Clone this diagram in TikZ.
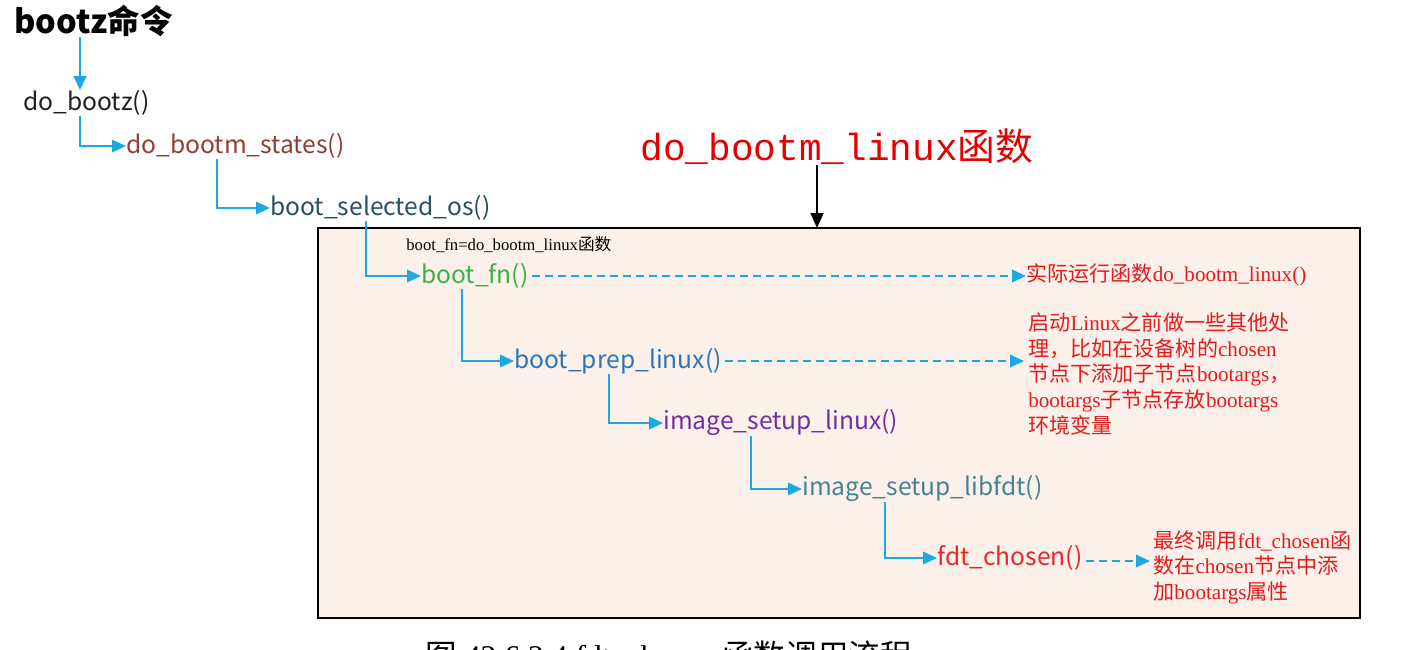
\documentclass[tikz,border=0pt]{standalone}
\usepackage{fontspec}
\setmainfont{Liberation Serif}
\newfontfamily\cjk{Noto Sans CJK SC}
\newfontfamily\monofam{Liberation Mono}
\usetikzlibrary{arrows.meta,positioning}
\definecolor{wire}{RGB}{29,169,222}
\definecolor{paper}{RGB}{252,241,234}
\definecolor{mark}{RGB}{226,28,28}
\definecolor{rust}{RGB}{148,60,52}
\definecolor{slate}{RGB}{38,80,100}
\definecolor{leaf}{RGB}{60,175,75}
\definecolor{steel}{RGB}{46,117,182}
\definecolor{plum}{RGB}{112,48,160}
\definecolor{sea}{RGB}{70,130,145}
\definecolor{scarlet}{RGB}{232,40,40}
\newcommand{\zh}[1]{{\cjk #1}}
\tikzset{
  >={Triangle[length=2.8mm,width=2.5mm]},
  fn/.style={anchor=west,inner sep=0pt,text=#1,font=\cjk\fontsize{14}{16}\selectfont},
  fn/.default=black,
  call/.style={->,line width=1.1pt,draw=wire},
  hint/.style={->,line width=1.1pt,draw=wire,dash pattern=on 1.6mm off 1mm},
  note/.style={anchor=north west,inner sep=0pt,text=mark,align=left,
    font=\fontsize{12}{14.7}\selectfont},
  frame/.style={draw=black,fill=paper,line width=1.3pt},
}

\begin{document}
\begin{tikzpicture}[x=0.02cm,y=-0.02cm]
    \useasboundingbox (0,0) rectangle (1408,649);
    \draw[frame] (318,228) rectangle (1360,618);
    \coordinate (boxtop) at (817,228);
    \node[anchor=west,inner sep=0pt,font=\cjk\bfseries\fontsize{18.5}{21}\selectfont] (top) at (14,21) {bootz命令};
    \foreach \n/\t/\c/\px/\py in {f0/do\_bootz()/black!88/23/103,f1/do\_bootm\_states()/rust/126/146,
      f2/boot\_selected\_os()/slate/270/208,f3/boot\_fn()/leaf/421/276,f4/boot\_prep\_linux()/steel/514/361,
      f5/image\_setup\_linux()/plum/663/423,f6/image\_setup\_libfdt()/sea/802/489,f7/fdt\_chosen()/scarlet/937/558}
      \node[fn=\c] (\n) at (\px,\py) {\t};
    \draw[call] (top.south west) ++(66,0) coordinate (s0) -- (s0 |- f0.north);
    \foreach \a/\b/\k in {f0/f1/57,f1/f2/91,f2/f3/96,f3/f4/41,f4/f5/95,f5/f6/88,f6/f7/83}
      \draw[call] (\a.south west) ++(\k,0) |- (\b.west);
    % title over the frame
    \node[anchor=west,inner sep=0pt,text=red!90!black,font=\fontsize{21.5}{24}\selectfont] (title) at (640,147) {{\monofam do\_bootm\_linux}\zh{函数}};
    \draw[->,line width=1pt,>={Triangle[length=3mm,width=2.6mm]}] (title.south west) ++(177,0) coordinate (s1) -- (boxtop);
    \node[anchor=west,inner sep=0pt,font=\fontsize{9.5}{11}\selectfont] (fnlab) at (406,245) {boot\_fn=do\_bootm\_linux\zh{函数}};
    % notes
    \node[note,anchor=west] (n0) at (1026,275) {\zh{实际运行函数}do\_bootm\_linux()};
    \node[note] (n1) at (1028,312) {\zh{启动}Linux\zh{之前做一些其他处}\\\zh{理，比如在设备树的}chosen\\\zh{节点下添加子节点}bootargs\zh{，}\\bootargs\zh{子节点存放}bootargs\\\zh{环境变量}};
    \node[note] (n2) at (1153,530) {\zh{最终调用}fdt\_chosen\zh{函}\\\zh{数在}chosen\zh{节点中添}\\\zh{加}bootargs\zh{属性}};
    \draw[hint] (f3.east) ++(3,0) -- (f3.east -| n0.west);
    \draw[hint] (f4.east) ++(3,0) -- ([xshift=-4*0.02cm]f4.east -| n1.west);
    \draw[hint] (f7.east) ++(3,3) coordinate (s2) -- ([xshift=-3*0.02cm]s2 -| n2.west);
    \node[anchor=base west,inner sep=0pt,font=\fontsize{18}{20}\selectfont] (cap) at (425,667) {\zh{图} 42.6.2.4 fdt\_chosen \zh{函数调用流程}};
\end{tikzpicture}
\end{document}
